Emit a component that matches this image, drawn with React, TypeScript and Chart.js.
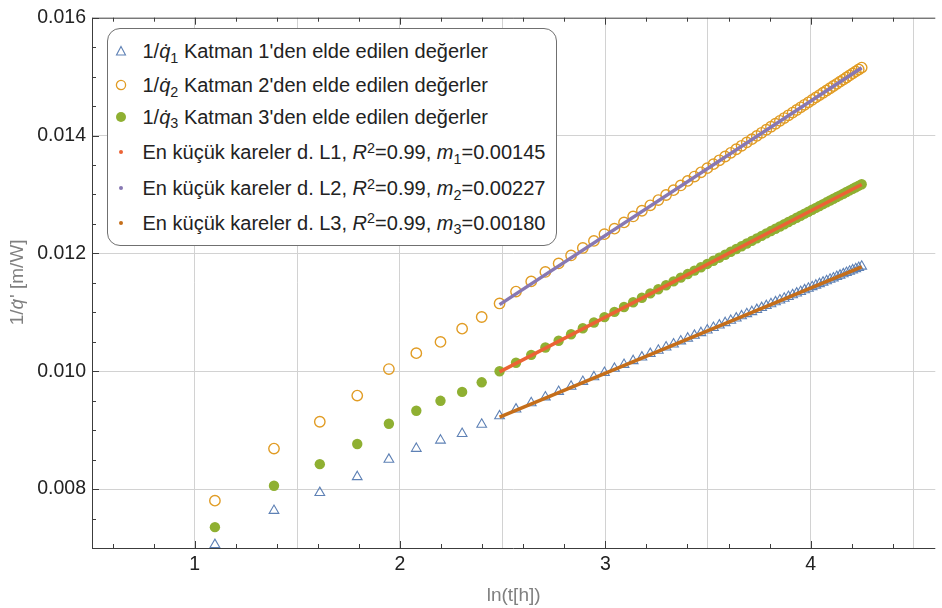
import React, { useEffect, useRef } from 'react';
import { Chart, registerables } from 'chart.js';

Chart.register(...registerables);

// time in hours (x axis is ln(t))
const hours = [3, 4, 5, 6, 7, 8, 9, 10, 11, 12, 13, 14, 15, 16, 17, 18, 19, 20, 21, 22, 23, 24, 25, 26, 27, 28, 29, 30,
  31, 32, 33, 34, 35, 36, 37, 38, 39, 40, 41, 42, 43, 44, 45, 46, 47, 48, 49, 50, 51, 52, 53, 54, 55, 56, 57, 58, 59, 60,
  61, 62, 63, 64, 65, 66, 67, 68, 69, 70];

// 1/q1 (layer 1) – triangles
const layer1 = [0.007056, 0.007635, 0.007938, 0.008208, 0.008502, 0.008688, 0.008828, 0.00894, 0.009098, 0.00924,
  0.009355, 0.009462, 0.009561, 0.009654, 0.009742, 0.009824, 0.009902, 0.009976, 0.010046, 0.010113, 0.010177, 0.010238,
  0.010297, 0.010353, 0.010408, 0.01046, 0.010511, 0.010559, 0.010607, 0.010652, 0.010697, 0.01074, 0.010781, 0.010822,
  0.010861, 0.0109, 0.010937, 0.010974, 0.011009, 0.011044, 0.011078, 0.011111, 0.011143, 0.011175, 0.011206, 0.011236,
  0.011266, 0.011295, 0.011324, 0.011351, 0.011379, 0.011406, 0.011432, 0.011458, 0.011484, 0.011509, 0.011533, 0.011558,
  0.011581, 0.011605, 0.011628, 0.011651, 0.011673, 0.011695, 0.011717, 0.011738, 0.011759, 0.01178];

// 1/q2 (layer 2) – open circles
const layer2 = [0.007803, 0.008687, 0.009143, 0.009587, 0.010037, 0.010307, 0.010498, 0.010723, 0.01092, 0.01115,
  0.011352, 0.011525, 0.011685, 0.01183, 0.011965, 0.012092, 0.012212, 0.012326, 0.01242, 0.012526, 0.012627, 0.012724,
  0.012816, 0.012905, 0.012991, 0.013073, 0.013153, 0.01323, 0.013304, 0.013376, 0.013446, 0.013514, 0.01358, 0.013644,
  0.013706, 0.013767, 0.013826, 0.013883, 0.013939, 0.013994, 0.014047, 0.014099, 0.01415, 0.0142, 0.014249, 0.014297,
  0.014344, 0.01439, 0.014434, 0.014479, 0.014522, 0.014564, 0.014606, 0.014647, 0.014687, 0.014726, 0.014765, 0.014803,
  0.014841, 0.014878, 0.014914, 0.01495, 0.014985, 0.01502, 0.015054, 0.015088, 0.015121, 0.015153];

// 1/q3 (layer 3) – filled circles
const layer3 = [0.007354, 0.008057, 0.008423, 0.008765, 0.009109, 0.009329, 0.009498, 0.009649, 0.009812, 0.01,
  0.010144, 0.010278, 0.010402, 0.010518, 0.010627, 0.01073, 0.010827, 0.010919, 0.011007, 0.011091, 0.011171, 0.011248,
  0.011321, 0.011392, 0.01146, 0.011525, 0.011588, 0.011649, 0.011708, 0.011765, 0.011821, 0.011875, 0.011927, 0.011977,
  0.012027, 0.012075, 0.012122, 0.012167, 0.012212, 0.012255, 0.012297, 0.012339, 0.012379, 0.012419, 0.012457, 0.012495,
  0.012532, 0.012569, 0.012604, 0.012639, 0.012674, 0.012707, 0.01274, 0.012773, 0.012805, 0.012836, 0.012867, 0.012897,
  0.012927, 0.012956, 0.012985, 0.013013, 0.013041, 0.013069, 0.013096, 0.013122, 0.013149, 0.013174];

// least-squares lines (end points)
const fitHours = [12, 70];
const fitL1 = [0.00922, 0.01177];
const fitL2 = [0.01113, 0.01515];
const fitL3 = [0.00999, 0.01317];

const xMin = 0.5;
const xMax = 4.607;
const yMin = 0.007;
const yMax = 0.016;

const C1 = '#5E81B5';
const C2 = '#E19C24';
const C3 = '#8FB032';
const CL1 = '#EB6235';
const CL2 = '#8778B3';
const CL3 = '#C56E1A';

const FONT = "'Liberation Sans', Arial, sans-serif";

const pts = (hs: number[], vs: number[]) => hs.map((h, i) => ({ x: Math.log(h), y: vs[i] }));

const framePlugin = {
  id: 'frameTicks',
  afterDraw(chart: any) {
    const { ctx, chartArea: a, scales } = chart;
    const xs = scales.x;
    const ys = scales.y;
    ctx.save();
    ctx.strokeStyle = '#3c3c3c';
    ctx.lineWidth = 1;
    ctx.beginPath();
    // frame
    ctx.moveTo(a.left + 0.5, a.top + 0.5);
    ctx.lineTo(a.right, a.top + 0.5);
    ctx.moveTo(a.left + 0.5, a.top);
    ctx.lineTo(a.left + 0.5, a.bottom + 0.5);
    ctx.moveTo(a.left, a.bottom + 0.5);
    ctx.lineTo(a.right, a.bottom + 0.5);
    // x ticks (inward, bottom and top)
    xs.ticks.forEach((t: any) => {
      const k = Math.round(t.value * 10);
      if (Math.abs(t.value * 10 - k) > 1e-6) return;
      let len = 0;
      if (k % 10 === 0) len = 7;
      else if (k % 2 === 0) len = 4;
      if (!len) return;
      const px = Math.round(xs.getPixelForValue(t.value)) + 0.5;
      if (px <= a.left + 1 || px > a.right) return;
      ctx.moveTo(px, a.bottom);
      ctx.lineTo(px, a.bottom - len);
      ctx.moveTo(px, a.top);
      ctx.lineTo(px, a.top + len);
    });
    // y ticks (inward, left)
    ys.ticks.forEach((t: any) => {
      const k = Math.round(t.value * 10000);
      if (Math.abs(t.value * 10000 - k) > 1e-6) return;
      if (k % 5 !== 0) return;
      const len = k % 20 === 0 ? 7 : 4;
      const py = Math.round(ys.getPixelForValue(t.value)) + 0.5;
      ctx.moveTo(a.left, py);
      ctx.lineTo(a.left + len, py);
    });
    ctx.stroke();

    // y-axis title with italic q-dot
    const parts: [string, boolean][] = [['1/', false], ['q\u0307', true], ["' [m/W]", false]];
    const fs = 19;
    const fontOf = (it: boolean) => `${it ? 'italic ' : ''}${fs}px ${FONT}`;
    let total = 0;
    const widths = parts.map(([s, it]) => {
      ctx.font = fontOf(it);
      const w = ctx.measureText(s).width;
      total += w;
      return w;
    });
    ctx.translate(18, (a.top + a.bottom) / 2);
    ctx.rotate(-Math.PI / 2);
    ctx.fillStyle = '#808080';
    ctx.textBaseline = 'middle';
    ctx.textAlign = 'left';
    let cx = -total / 2;
    parts.forEach(([s, it], i) => {
      ctx.font = fontOf(it);
      ctx.fillText(s, cx, 0);
      cx += widths[i] + (it ? 1 : 0);
    });
    ctx.restore();
  },
};

function Tri({ color }: { color: string }) {
  return (
    <svg width="14" height="14" style={{ display: 'block' }}>
      <polygon points="7,2.5 11.5,11 2.5,11" fill="none" stroke={color} strokeWidth="1.1" />
    </svg>
  );
}
function Circ({ color, filled }: { color: string; filled?: boolean }) {
  return (
    <svg width="14" height="14" style={{ display: 'block' }}>
      {filled ? (
        <circle cx="7" cy="7" r="5" fill={color} />
      ) : (
        <circle cx="7" cy="7" r="4.6" fill="none" stroke={color} strokeWidth="1.3" />
      )}
    </svg>
  );
}
function Dot({ color }: { color: string }) {
  return (
    <svg width="14" height="14" style={{ display: 'block' }}>
      <circle cx="7" cy="7" r="2" fill={color} />
    </svg>
  );
}

const subStyle: React.CSSProperties = { fontSize: '0.72em', position: 'relative', top: '0.32em', lineHeight: 0 };
const supStyle: React.CSSProperties = { fontSize: '0.72em', position: 'relative', top: '-0.45em', lineHeight: 0 };

const legendRows: { center: number; marker: React.ReactNode; text: React.ReactNode }[] = [
  {
    center: 51.7,
    marker: <Tri color={C1} />,
    text: (<>1/<i>q&#775;</i><span style={subStyle}>1</span> Katman 1'den elde edilen değerler</>),
  },
  {
    center: 85.5,
    marker: <Circ color={C2} />,
    text: (<>1/<i>q&#775;</i><span style={subStyle}>2</span> Katman 2'den elde edilen değerler</>),
  },
  {
    center: 117,
    marker: <Circ color={C3} filled />,
    text: (<>1/<i>q&#775;</i><span style={subStyle}>3</span> Katman 3'den elde edilen değerler</>),
  },
  {
    center: 152.5,
    marker: <Dot color={CL1} />,
    text: (<>En küçük kareler d. L1, <i>R</i><span style={supStyle}>2</span>=0.99, <i>m</i><span style={subStyle}>1</span>=0.00145</>),
  },
  {
    center: 188.5,
    marker: <Dot color={CL2} />,
    text: (<>En küçük kareler d. L2, <i>R</i><span style={supStyle}>2</span>=0.99, <i>m</i><span style={subStyle}>2</span>=0.00227</>),
  },
  {
    center: 223,
    marker: <Dot color={CL3} />,
    text: (<>En küçük kareler d. L3, <i>R</i><span style={supStyle}>2</span>=0.99, <i>m</i><span style={subStyle}>3</span>=0.00180</>),
  },
];

const LEG_LEFT = 106.5;
const LEG_TOP = 28;

export default function App() {
  const ref = useRef<HTMLCanvasElement>(null);

  useEffect(() => {
    if (!ref.current) return;
    const chart = new Chart(ref.current, {
      type: 'scatter',
      data: {
        datasets: [
          {
            label: 'L1',
            data: pts(fitHours, fitL1),
            showLine: true,
            borderColor: CL3,
            borderWidth: 3.5,
            pointRadius: 0,
            order: 0,
          },
          {
            label: 'L2',
            data: pts(fitHours, fitL2),
            showLine: true,
            borderColor: CL2,
            borderWidth: 3.5,
            pointRadius: 0,
            order: 0,
          },
          {
            label: 'L3',
            data: pts(fitHours, fitL3),
            showLine: true,
            borderColor: CL1,
            borderWidth: 3.5,
            pointRadius: 0,
            order: 0,
          },
          {
            label: 'layer1',
            data: pts(hours, layer1),
            pointStyle: 'triangle',
            pointRadius: 5.6,
            borderColor: C1,
            backgroundColor: 'rgba(0,0,0,0)',
            borderWidth: 1.1,
            order: 1,
          },
          {
            label: 'layer2',
            data: pts(hours, layer2),
            pointStyle: 'circle',
            pointRadius: 5.2,
            borderColor: C2,
            backgroundColor: 'rgba(0,0,0,0)',
            borderWidth: 1.4,
            order: 1,
          },
          {
            label: 'layer3',
            data: pts(hours, layer3),
            pointStyle: 'circle',
            pointRadius: 5.2,
            borderWidth: 0,
            borderColor: C3,
            backgroundColor: C3,
            order: 1,
          },
        ],
      },
      options: {
        animation: false,
        responsive: false,
        devicePixelRatio: 1,
        layout: { padding: { top: 15, left: 0, right: 0, bottom: 0 } },
        plugins: {
          legend: { display: false },
          tooltip: { enabled: false },
        },
        scales: {
          x: {
            type: 'linear',
            position: 'bottom',
            min: xMin,
            max: xMax,
            afterFit: (s: any) => {
              s.height = 60;
            },
            border: { display: false },
            grid: {
              drawTicks: false,
              lineWidth: 1,
              color: (ctx: any) => {
                const v = ctx.tick ? ctx.tick.value : NaN;
                const k = Math.round(v * 10);
                if (Math.abs(v * 10 - k) < 1e-6 && k % 5 === 0 && k > 5) return '#d2d2d2';
                return 'rgba(0,0,0,0)';
              },
            },
            ticks: {
              stepSize: 0.1,
              autoSkip: false,
              maxRotation: 0,
              padding: 5,
              color: '#222',
              font: { family: FONT, size: 19.5 },
              callback: (v: any) => {
                const n = Number(v);
                return Math.abs(n - Math.round(n)) < 1e-6 ? String(Math.round(n)) : '';
              },
            },
            title: {
              display: true,
              text: 'ln(t[h])',
              color: '#808080',
              font: { family: FONT, size: 19 },
              padding: { top: 0, bottom: 1 },
            },
          },
          y: {
            type: 'linear',
            min: yMin,
            max: yMax,
            afterFit: (s: any) => {
              s.width = 92;
            },
            border: { display: false },
            grid: {
              drawTicks: false,
              lineWidth: 1,
              color: (ctx: any) => {
                const v = ctx.tick ? ctx.tick.value : NaN;
                const k = Math.round(v * 10000);
                if (Math.abs(v * 10000 - k) < 1e-6 && k % 20 === 0 && k > 70 && k < 160) return '#d2d2d2';
                return 'rgba(0,0,0,0)';
              },
            },
            ticks: {
              stepSize: 0.0005,
              autoSkip: false,
              padding: 6,
              color: '#222',
              font: { family: FONT, size: 19.5 },
              callback: (v: any) => {
                const n = Number(v);
                const k = Math.round(n * 10000);
                return Math.abs(n * 10000 - k) < 1e-6 && k % 20 === 0 ? n.toFixed(3) : '';
              },
            },
          },
        },
      },
      plugins: [framePlugin],
    });
    return () => chart.destroy();
  }, []);

  return (
    <div style={{ position: 'absolute', left: 0, top: 0, width: 942, height: 608, background: '#fff', overflow: 'hidden' }}>
      <canvas ref={ref} width={942} height={608} style={{ display: 'block', width: 942, height: 608 }} />
      <div
        style={{
          position: 'absolute',
          left: LEG_LEFT,
          top: LEG_TOP,
          width: 450.5,
          height: 217.5,
          boxSizing: 'border-box',
          border: '1.5px solid #707070',
          borderRadius: 13,
          background: '#fff',
          fontFamily: FONT,
          fontSize: 20,
          color: '#222',
        }}
      >
        {legendRows.map((r, i) => (
          <div
            key={i}
            style={{
              position: 'absolute',
              left: 0,
              top: r.center - LEG_TOP - 1.5 - 12,
              height: 24,
              lineHeight: '24px',
              whiteSpace: 'nowrap',
            }}
          >
            <div style={{ position: 'absolute', left: 121.7 - LEG_LEFT - 1.5 - 7, top: 5 }}>{r.marker}</div>
            <div style={{ position: 'absolute', left: 143 - LEG_LEFT - 1.5, top: 0 }}>{r.text}</div>
          </div>
        ))}
      </div>
    </div>
  );
}
